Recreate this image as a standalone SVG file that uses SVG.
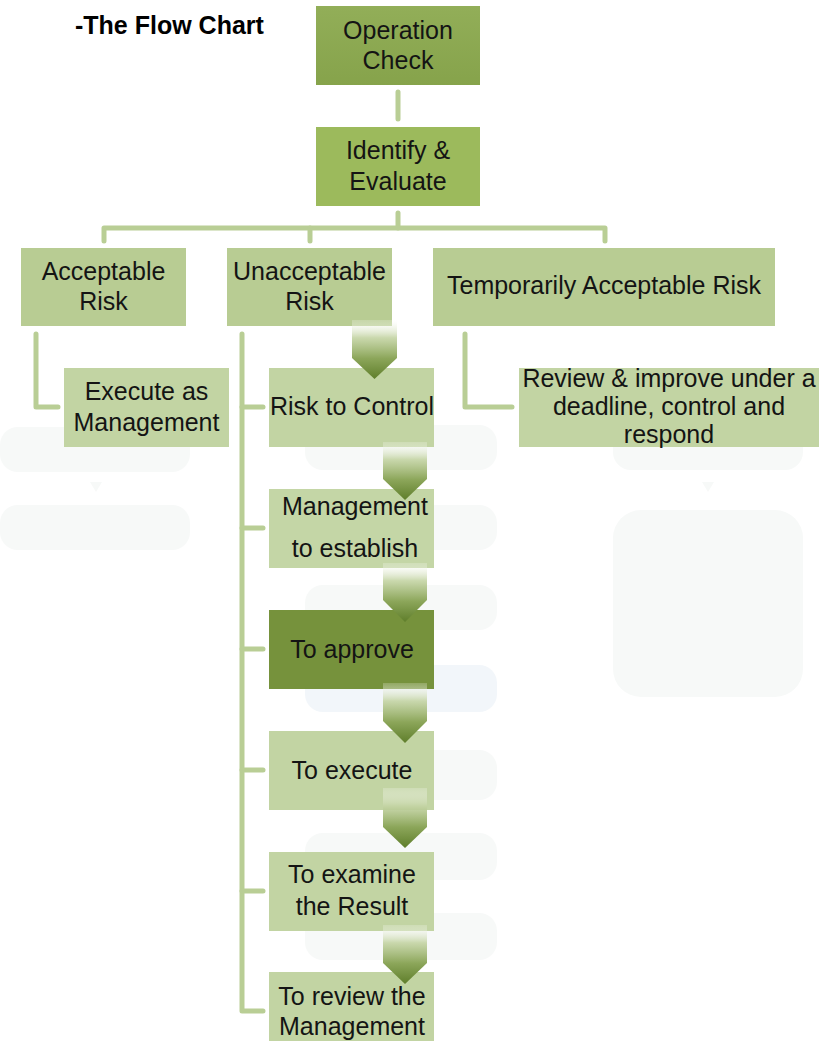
<svg xmlns="http://www.w3.org/2000/svg" width="827" height="1041" viewBox="0 0 827 1041">
  <defs>
    <linearGradient id="chev" x1="0" y1="0" x2="0" y2="1">
      <stop offset="0" stop-color="#ffffff" stop-opacity="0.2"/>
      <stop offset="0.3" stop-color="#c4d4a4" stop-opacity="0.9"/>
      <stop offset="0.65" stop-color="#8ca65a"/>
      <stop offset="1" stop-color="#5f7e2b"/>
    </linearGradient>
    <linearGradient id="opg" x1="0" y1="0" x2="0" y2="1">
      <stop offset="0" stop-color="#92ae58"/>
      <stop offset="1" stop-color="#86a34b"/>
    </linearGradient>
  </defs>
  <style>
    .t { font-family: "Liberation Sans", Arial, sans-serif; font-size: 25px; fill: #141414; text-anchor: middle; }
    .title { font-family: "Liberation Sans", Arial, sans-serif; font-size: 25px; font-weight: bold; fill: #000; }
    .ln { fill: none; stroke: #b9ce95; stroke-width: 5; stroke-linecap: round; stroke-linejoin: round; }
    .r1 { fill: #b8cc93; }
    .r2 { fill: #c2d4a3; }
    .ghost { fill: #f7f9f8; }
  </style>
  <rect width="827" height="1041" fill="#ffffff"/>

  <g id="background">
    <rect class="ghost" x="0" y="427" width="190" height="45" rx="18"/>
    <polygon class="ghost" points="90,482 102,482 96,492"/>
    <rect class="ghost" x="0" y="505" width="190" height="45" rx="18"/>
    <rect class="ghost" x="305" y="425" width="192" height="45" rx="18"/>
    <rect class="ghost" x="305" y="505" width="192" height="45" rx="18"/>
    <rect class="ghost" x="305" y="585" width="192" height="45" rx="18"/>
    <rect x="305" y="665" width="192" height="47" rx="18" fill="#f2f6fa"/>
    <rect class="ghost" x="305" y="750" width="192" height="50" rx="18"/>
    <rect class="ghost" x="305" y="833" width="192" height="47" rx="18"/>
    <rect class="ghost" x="305" y="913" width="192" height="47" rx="18"/>
    <polygon class="ghost" points="702,482 714,482 708,492"/>
    <rect class="ghost" x="613" y="510" width="190" height="187" rx="28"/>
    <rect class="ghost" x="613" y="425" width="190" height="45" rx="18"/>
  </g>

  <text class="title" x="75" y="34">-The Flow Chart</text>

  <g id="connectors-lines">
    <line class="ln" x1="398" y1="92" x2="398" y2="119"/>
    <polyline class="ln" points="398,213 398,228"/>
    <polyline class="ln" points="104,241 104,228 605,228 605,241"/>
    <line class="ln" x1="310" y1="228" x2="310" y2="241"/>
    <polyline class="ln" points="36,334 36,407 58,407"/>
    <polyline class="ln" points="465,334 465,407 512,407"/>
    <polyline class="ln" points="242,334 242,1011 263,1011"/>
    <line class="ln" x1="242" y1="407" x2="263" y2="407"/>
    <line class="ln" x1="242" y1="528" x2="263" y2="528"/>
    <line class="ln" x1="242" y1="649" x2="263" y2="649"/>
    <line class="ln" x1="242" y1="770" x2="263" y2="770"/>
    <line class="ln" x1="242" y1="891" x2="263" y2="891"/>
  </g>

  <g id="node-operation-check">
    <rect x="316" y="6" width="164" height="79" fill="url(#opg)"/>
    <text class="t" x="398" y="39">Operation</text>
    <text class="t" x="398" y="69">Check</text>
  </g>
  <g id="node-identify-evaluate">
    <rect x="316" y="127" width="164" height="79" fill="#9cba5c"/>
    <text class="t" x="398" y="159">Identify &amp;</text>
    <text class="t" x="398" y="190">Evaluate</text>
  </g>
  <g id="node-acceptable-risk">
    <rect class="r1" x="21" y="248" width="165" height="78"/>
    <text class="t" x="103.5" y="280">Acceptable</text>
    <text class="t" x="103.5" y="310">Risk</text>
  </g>
  <g id="node-unacceptable-risk">
    <rect class="r1" x="227" y="248" width="165" height="78"/>
    <text class="t" x="309.5" y="280">Unacceptable</text>
    <text class="t" x="309.5" y="310">Risk</text>
  </g>
  <g id="node-temporarily-acceptable-risk">
    <rect class="r1" x="433" y="248" width="342" height="78"/>
    <text class="t" x="604" y="294">Temporarily Acceptable Risk</text>
  </g>
  <g id="node-execute-as-management">
    <rect class="r2" x="64" y="368" width="165" height="79"/>
    <text class="t" x="146.5" y="400">Execute as</text>
    <text class="t" x="146.5" y="431">Management</text>
  </g>
  <g id="node-review-improve">
    <rect class="r2" x="519" y="368" width="300" height="79"/>
    <text class="t" x="669" y="387">Review &amp; improve under a</text>
    <text class="t" x="669" y="415">deadline, control and</text>
    <text class="t" x="669" y="443">respond</text>
  </g>
  <g id="node-risk-to-control">
    <rect class="r2" x="269" y="368" width="165" height="79"/>
    <text class="t" x="352" y="415">Risk to Control</text>
  </g>
  <g id="node-management-to-establish">
    <rect x="269" y="489" width="165" height="79" fill="#c4d6a6"/>
    <text class="t" x="355" y="515">Management</text>
    <text class="t" x="355" y="557">to establish</text>
  </g>
  <g id="node-to-approve">
    <rect x="269" y="610" width="165" height="79" fill="#76923c"/>
    <text class="t" x="352" y="658">To approve</text>
  </g>
  <g id="node-to-execute">
    <rect class="r2" x="269" y="731" width="165" height="79"/>
    <text class="t" x="352" y="779">To execute</text>
  </g>
  <g id="node-to-examine-result">
    <rect class="r2" x="269" y="852" width="165" height="79"/>
    <text class="t" x="352" y="883">To examine</text>
    <text class="t" x="352" y="915">the Result</text>
  </g>
  <g id="node-to-review-management">
    <rect class="r2" x="269" y="972" width="165" height="75"/>
    <text class="t" x="352" y="1005">To review the</text>
    <text class="t" x="352" y="1035">Management</text>
  </g>

  <g id="connectors-arrows">
    <polygon fill="url(#chev)" points="352,320 397,320 397,358 374.5,379 352,358"/>
    <polygon fill="url(#chev)" points="383,442 427,442 427,479 405,500 383,479"/>
    <polygon fill="url(#chev)" points="383,563 427,563 427,600 405,622 383,600"/>
    <polygon fill="url(#chev)" points="383,683 427,683 427,721 405,743 383,721"/>
    <polygon fill="url(#chev)" points="383,788 427,788 427,827 405,848 383,827"/>
    <polygon fill="url(#chev)" points="383,925 427,925 427,963 405,984 383,963"/>
  </g>
</svg>
